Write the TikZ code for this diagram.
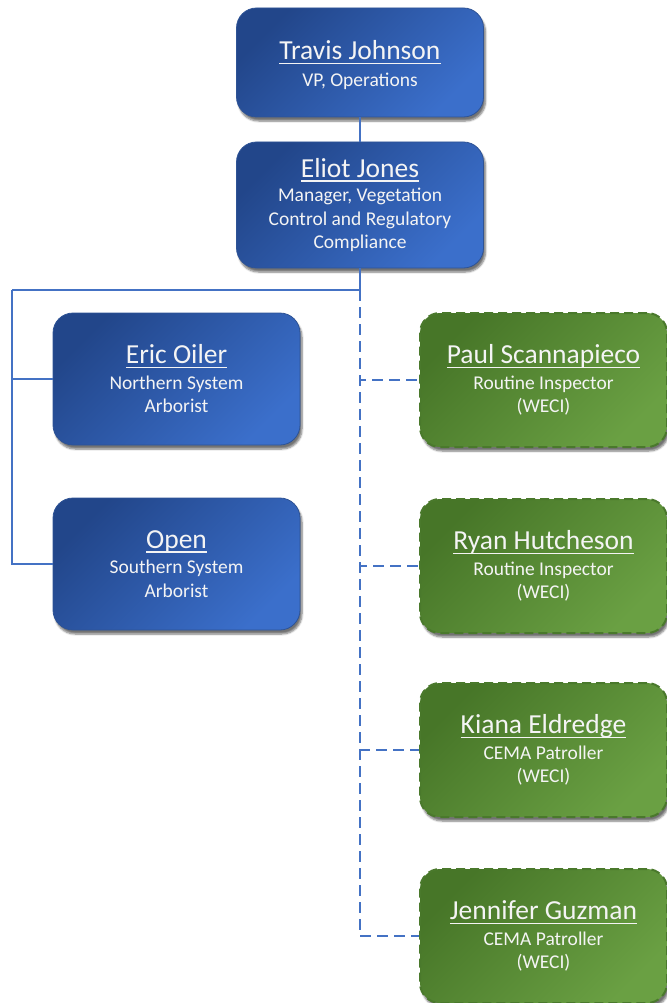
\documentclass[tikz,border=0pt]{standalone}
\usepackage{fontspec}
\setmainfont{Carlito}
\usetikzlibrary{shadows.blur}
\definecolor{bdark}{HTML}{22468A}
\definecolor{blight}{HTML}{3B6FCB}
\definecolor{bedge}{HTML}{2E5395}
\definecolor{gdark}{HTML}{477628}
\definecolor{glight}{HTML}{6AA043}
\definecolor{gedge}{HTML}{4A792C}
\definecolor{connc}{HTML}{4472C4}
\definecolor{txt}{HTML}{F4F4F4}
\newcommand\nm[1]{{\fontsize{27.5}{31}\selectfont\setbox0=\hbox{#1}\rlap{\rule[-4.5pt]{\wd0}{1.6pt}}\box0}}
\begin{document}
\begin{tikzpicture}[x=1pt,y=-1pt,
  card/.style={rounded corners=20pt, minimum width=247pt, align=center, text=txt,
    font=\fontsize{19.5}{23.5}\selectfont, inner sep=0pt,
    blur shadow={shadow xshift=2pt,shadow yshift=-4pt,shadow blur steps=6,shadow opacity=55}},
  bluecard/.style={card, draw=bedge, line width=0.8pt, top color=bdark, bottom color=blight, shading angle=45},
  greencard/.style={card, draw=gedge, line width=2pt, dash pattern=on 9pt off 5pt,
    top color=gdark, bottom color=glight, shading angle=45},
  link/.style={draw=connc, line width=2.2pt},
  dlink/.style={link, dash pattern=on 11pt off 6pt}]
\useasboundingbox (0,0) rectangle (666,1003);

\node[bluecard, minimum height=109pt] (travis) at (360,62.5) {\rule{0pt}{24pt}\nm{Travis Johnson}\\[3pt]VP, Operations};
\node[bluecard, minimum height=126pt] (eliot) at (360,205) {\nm{Eliot Jones}\\[1pt]Manager, Vegetation\\Control and Regulatory\\Compliance};
\node[bluecard, minimum height=132pt] (eric) at (176.5,379) {\nm{Eric Oiler}\\[2pt]Northern System\\Arborist};
\node[bluecard, minimum height=132pt] (open) at (176.5,564) {\nm{Open}\\[2pt]Southern System\\Arborist};

\node[greencard, minimum height=134pt] (paul) at (543.5,380) {\nm{Paul Scannapieco}\\[2pt]Routine Inspector\\(WECI)};
\node[greencard, minimum height=134pt] (ryan) at (543.5,566) {\nm{Ryan Hutcheson}\\[2pt]Routine Inspector\\(WECI)};
\node[greencard, minimum height=134pt] (kiana) at (543.5,750) {\nm{Kiana Eldredge}\\[2pt]CEMA Patroller\\(WECI)};
\node[greencard, minimum height=134pt] (jen) at (543.5,936) {\nm{Jennifer Guzman}\\[2pt]CEMA Patroller\\(WECI)};

\coordinate (lt) at (12,290);
\coordinate (j) at (eliot.south |- lt);

\draw[link] (travis) -- (eliot);
\draw[link] (eliot.south) |- (lt);
\draw[link] (lt) |- (eric.west);
\draw[link] (lt) |- (open.west);
\draw[dlink] (j) |- (paul.west);
\draw[dlink] (j) |- (ryan.west);
\draw[dlink] (j) |- (kiana.west);
\draw[dlink] (j) |- (jen.west);
\end{tikzpicture}
\end{document}
